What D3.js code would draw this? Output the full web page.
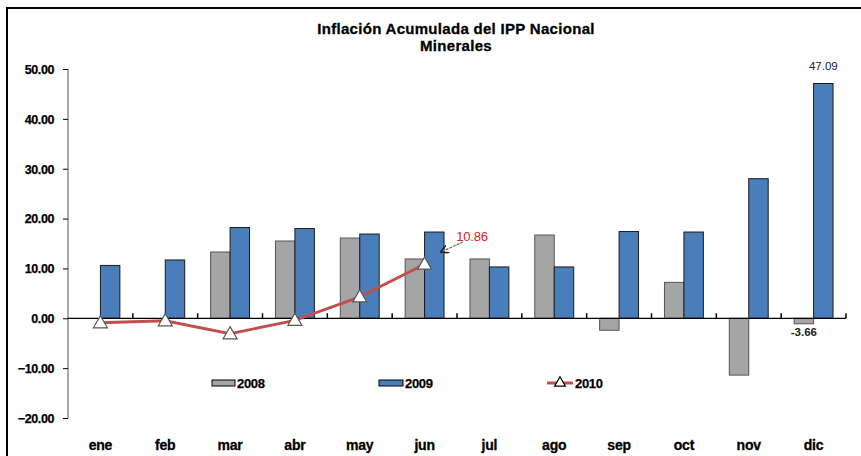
<!DOCTYPE html>
<html><head><meta charset="utf-8">
<script src="https://cdn.jsdelivr.net/npm/d3@7"></script>
<style>body{margin:0;background:#fff}svg{display:block}</style>
</head><body><svg id="c" width="861" height="456"></svg>
<script>
const months = ["ene","feb","mar","abr","may","jun","jul","ago","sep","oct","nov","dic"];
const v2008 = [null, null, 13.3, 15.5, 16.1, 11.9, 11.9, 16.7, -2.4, 7.2, -11.4, -1.1];
const v2009 = [10.6, 11.7, 18.2, 18.0, 16.9, 17.3, 10.3, 10.3, 17.4, 17.3, 28.0, 47.09];
const v2010 = [-0.9, -0.5, -3.1, -0.4, 4.3, 10.86];
const yTicks = [50, 40, 30, 20, 10, 0, -10, -20];
const seriesNames = ["2008", "2009", "2010"];
const labelJun2010 = "10.86", labelDic2009 = "47.09", labelDic2008 = "-3.66";

const svg = d3.select("#c");
const font = "'Liberation Sans', Arial, sans-serif";
const L = 68, R = 846;
const x = d3.scaleBand().domain(months).range([L, R]);
const xs = d3.scaleBand().domain(["2008","2009"]).range([0, x.bandwidth()]).paddingInner(0).paddingOuter(0.667);
const y = d3.scaleLinear().domain([-20, 50]).range([418, 69]);

// frame
svg.append("path").attr("d", "M7,456 V8 H861").attr("fill","none").attr("stroke","#000").attr("stroke-width",2);

// title
const tg = svg.append("g").attr("font-family", font).attr("font-weight","bold").attr("font-size",15)
  .attr("letter-spacing","0.3").attr("text-anchor","middle").attr("stroke","#000").attr("stroke-width",0.3);
tg.append("text").attr("x", 456).attr("y", 34).text("Inflación Acumulada del IPP Nacional");
tg.append("text").attr("x", 456).attr("y", 51).text("Minerales");

// y axis
const yAxis = svg.append("g").attr("transform", `translate(${L},0)`)
  .call(d3.axisLeft(y).tickValues(yTicks).tickSize(5).tickFormat(d3.format(".2f")));
yAxis.select(".domain").attr("stroke","#8c8c8c").attr("stroke-width",1.5).attr("d", `M0,${y(50)}V${y(-20)}`);
yAxis.selectAll(".tick line").attr("stroke","#000");
yAxis.selectAll(".tick text").attr("font-family", font).attr("font-weight","bold").attr("font-size",12.5)
  .attr("letter-spacing","-0.4").attr("fill","#000").attr("stroke","#000").attr("stroke-width",0.25)
  .attr("x",-14).attr("dy","0.35em");

// bars
const dataBars = [];
months.forEach((m,i)=>{
  if (v2008[i] !== null) dataBars.push({m, s:"2008", v:v2008[i]});
  dataBars.push({m, s:"2009", v:v2009[i]});
});
const fills = {"2008":"#a5a5a5","2009":"#4a7ebb"};
svg.append("g").selectAll("rect").data(dataBars).join("rect")
  .attr("x", d => x(d.m) + xs(d.s))
  .attr("width", xs.bandwidth())
  .attr("y", d => y(Math.max(0,d.v)))
  .attr("height", d => Math.abs(y(d.v) - y(0)))
  .attr("fill", d => fills[d.s])
  .attr("stroke", d => d.s==="2009" ? "#1a1a1a" : "#555")
  .attr("stroke-width", 1);

// zero line with ticks at category boundaries
const zeroG = svg.append("g").attr("transform", `translate(0,${y(0)})`)
  .call(d3.axisTop(x).tickSize(0).tickFormat(""));
zeroG.select(".domain").attr("stroke","#000").attr("stroke-width",1.2).attr("d", `M${L},0H${R}`);
const bounds = months.map(m => x(m)).concat([R]).slice(1);
svg.append("g").selectAll("line").data(bounds).join("line")
  .attr("x1", d=>d).attr("x2", d=>d).attr("y1", y(0)).attr("y2", y(0)-5)
  .attr("stroke","#000").attr("stroke-width",1.5);

// x labels
svg.append("g").selectAll("text").data(months).join("text")
  .attr("x", d => x(d) + x.bandwidth()/2).attr("y", 450).attr("text-anchor","middle")
  .attr("font-family", font).attr("font-weight","bold").attr("font-size",14).attr("letter-spacing","-0.2")
  .attr("stroke","#000").attr("stroke-width",0.3)
  .text(d=>d);

// 2010 line
const pts = v2010.map((v,i)=>({m:months[i], v}));
const cx = d => x(d.m) + x.bandwidth()/2;
svg.append("path").datum(pts)
  .attr("d", d3.line().x(cx).y(d=>y(d.v)))
  .attr("fill","none").attr("stroke","#c0504d").attr("stroke-width",2.8);
const tri = d3.symbol().type(d3.symbolTriangle).size(85);
svg.append("g").selectAll("path").data(pts).join("path")
  .attr("transform", d => `translate(${cx(d)},${y(d.v)+1})`)
  .attr("d", tri).attr("fill","#fff").attr("stroke","#555").attr("stroke-width",1.2);

// annotations
svg.append("text").attr("x", 472).attr("y", 241).attr("text-anchor","middle")
  .attr("font-family", font).attr("font-size",13).attr("fill","#e02020").attr("letter-spacing","-0.2")
  .text(labelJun2010);
svg.append("defs").append("marker").attr("id","ah").attr("viewBox","0 0 10 10").attr("refX",9).attr("refY",5)
  .attr("markerWidth",7).attr("markerHeight",7).attr("orient","auto")
  .append("path").attr("d","M0,0L10,5L0,10").attr("fill","none").attr("stroke","#222").attr("stroke-width",1.8);
svg.append("line").attr("x1", 463).attr("y1", 242).attr("x2", 441).attr("y2", 252)
  .attr("stroke","#666").attr("stroke-width",1.2).attr("stroke-dasharray","3,1").attr("marker-end","url(#ah)");

const dic = months[11];
svg.append("text").attr("x", x(dic)+xs("2009")+xs.bandwidth()/2).attr("y", 70).attr("text-anchor","middle")
  .attr("font-family", font).attr("font-size",11.5).attr("fill","#222").text(labelDic2009);
svg.append("text").attr("x", x(dic)+xs("2008")+xs.bandwidth()/2).attr("y", 336).attr("text-anchor","middle")
  .attr("font-family", font).attr("font-size",11.5).attr("fill","#222").attr("font-weight","bold").text(labelDic2008);

// legend
const lg = svg.append("g").attr("font-family", font).attr("font-weight","bold").attr("font-size",13)
  .attr("letter-spacing","-0.3").attr("stroke","#000").attr("stroke-width",0.25);
lg.append("rect").attr("x",212).attr("y",380).attr("width",23).attr("height",6).attr("fill",fills["2008"]).attr("stroke","#000").attr("stroke-width",1);
lg.append("text").attr("x",237).attr("y",388).text(seriesNames[0]);
lg.append("rect").attr("x",379).attr("y",380).attr("width",24).attr("height",6).attr("fill",fills["2009"]).attr("stroke","#000").attr("stroke-width",1);
lg.append("text").attr("x",405).attr("y",388).text(seriesNames[1]);
lg.append("line").attr("x1",547).attr("x2",573).attr("y1",383).attr("y2",383).attr("stroke","#c0504d").attr("stroke-width",3);
lg.append("path").attr("transform","translate(560,383)").attr("d", d3.symbol().type(d3.symbolTriangle).size(50))
  .attr("fill","#fff").attr("stroke","#000").attr("stroke-width",1.2);
lg.append("text").attr("x",575).attr("y",388).text(seriesNames[2]);
</script></body></html>
